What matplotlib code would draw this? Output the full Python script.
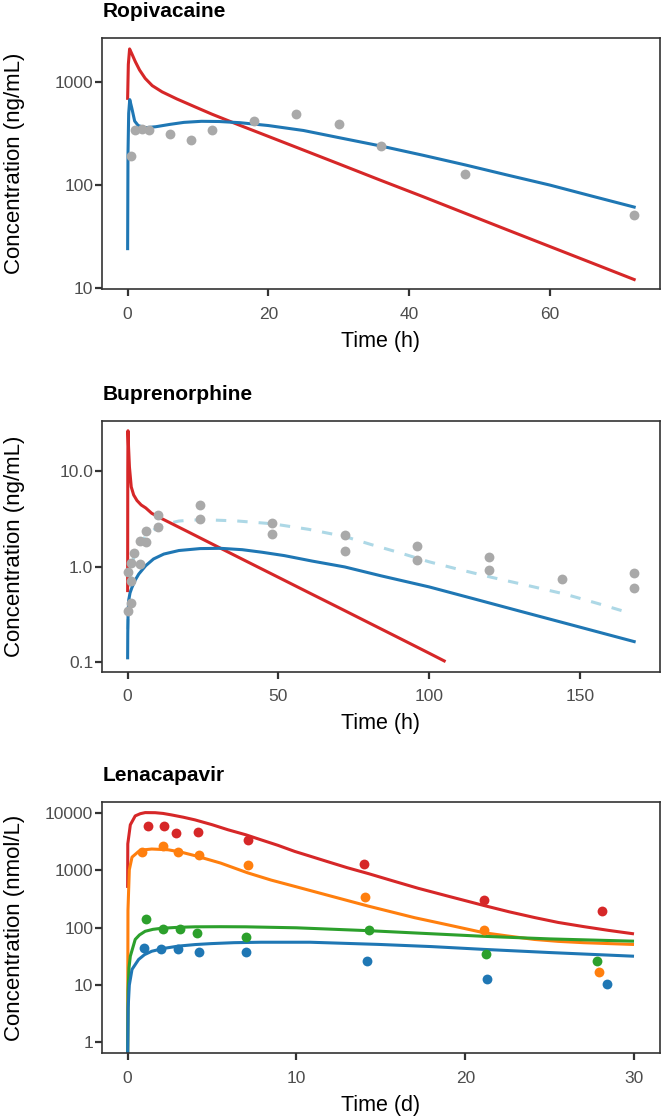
import matplotlib
matplotlib.use("Agg")
import matplotlib.pyplot as plt
from matplotlib.ticker import FixedLocator, FixedFormatter, NullLocator

plt.rcParams['font.family'] = ['Liberation Sans', 'DejaVu Sans']

# ---------------- Ropivacaine ----------------
ropi_obs_t = [0.5, 1, 2, 3, 6, 9, 12, 18, 24, 30, 36, 48, 72]
ropi_obs_c = [190, 341, 355, 341, 314, 277, 347, 421, 490, 391, 240, 129, 51]

ropi_red_t = [0, 0.1, 0.28, 0.6, 1.1, 1.7, 2.5, 3.5, 4.9, 7, 9.6, 12, 15.7, 20, 24, 30, 36,
              42, 48, 54, 60, 66, 72]
ropi_red_c = [700, 1500, 2120, 1900, 1590, 1320, 1094, 930, 809, 690, 577, 490, 388, 298, 233,
              161, 111, 77, 53, 36.5, 25.2, 17.4, 12.0]

ropi_blue_t = [0, 0.05, 0.15, 0.3, 0.6, 1.0, 1.5, 2.5, 4, 6, 8, 10.5, 13, 16, 20, 25, 30, 36,
               42, 48, 54, 60, 66, 72]
ropi_blue_c = [24, 200, 500, 680, 560, 420, 380, 362, 370, 390, 408, 418, 416, 405, 380, 340,
               290, 240, 195, 157, 125, 100, 78, 61]

# ---------------- Buprenorphine ----------------
bup_obs_t = [0.25, 1, 0.25, 1, 1, 2, 4, 4, 6, 6, 10, 10, 24, 24, 48, 48, 72, 72, 96, 96,
             120, 120, 144, 168, 168]
bup_obs_c = [0.34, 0.415, 0.87, 0.71, 1.08, 1.38, 1.06, 1.87, 1.80, 2.34, 2.62, 3.48, 3.16,
             4.43, 2.20, 2.87, 1.44, 2.15, 1.18, 1.63, 0.91, 1.27, 0.746, 0.59, 0.85]

bup_red_t = [0, 0.05, 0.12, 0.3, 0.6, 1.2, 2, 3.1, 4.5, 6, 8, 11.4, 20, 30, 40, 50, 60, 70,
             80, 90, 100, 105]
bup_red_c = [0.56, 10, 26.3, 18, 11, 6.8, 5.6, 4.9, 4.4, 4.1, 3.6, 3.16, 2.31, 1.60, 1.11,
             0.771, 0.535, 0.372, 0.258, 0.179, 0.124, 0.103]

bup_blue_t = [0, 0.05, 0.15, 0.33, 0.8, 1.45, 2.5, 3.7, 6, 8.6, 12, 17, 24, 30.8, 38, 44.6,
              52, 61.2, 72, 84, 100, 115, 130, 145, 158, 168]
bup_blue_c = [0.111, 0.2, 0.32, 0.44, 0.53, 0.605, 0.72, 0.835, 1.02, 1.20, 1.35, 1.47, 1.54,
              1.55, 1.50, 1.41, 1.30, 1.14, 0.99, 0.80, 0.612, 0.458, 0.342, 0.256, 0.199,
              0.164]

bup_dash_t = [0, 0.2, 0.6, 1.2, 2.0, 3.2, 4.8, 6.5, 9.2, 13, 17, 21, 26, 36, 48, 60, 72, 80.7,
              90, 100, 110, 120.8, 133, 145, 156, 166]
bup_dash_c = [0.22, 0.33, 0.475, 0.80, 1.25, 1.60, 1.87, 2.15, 2.48, 2.80, 2.99, 3.06, 3.08,
              3.00, 2.80, 2.45, 2.06, 1.70, 1.40, 1.12, 0.93, 0.77, 0.63, 0.515, 0.41, 0.33]

# ---------------- Lenacapavir ----------------
len_red_obs_t = [1.2, 2.16, 2.86, 4.14, 7.14, 14.0, 21.08, 28.1]
len_red_obs_c = [6010, 6010, 4600, 4790, 3430, 1313, 302, 200]
len_org_obs_t = [0.86, 2.1, 2.96, 4.24, 7.14, 14.06, 21.08, 27.9]
len_org_obs_c = [2120, 2700, 2070, 1835, 1262, 346, 90, 16.9]
len_grn_obs_t = [1.1, 2.12, 3.1, 4.08, 7.02, 14.3, 21.2, 27.8]
len_grn_obs_c = [141, 97, 97, 82, 69, 91, 35.3, 26.7]
len_blu_obs_t = [0.98, 1.98, 3.0, 4.24, 7.02, 14.2, 21.3, 28.4]
len_blu_obs_c = [44.2, 42, 42, 38.3, 37.2, 25.9, 13, 10.6]

len_red_t = [0, 0.01, 0.16, 0.45, 0.75, 1.04, 1.63, 2.1, 2.6, 3.3, 3.99, 5.0, 5.95, 7.0, 7.9,
             8.9, 9.9, 10.8, 11.8, 13.0, 14.28, 15.7, 17.2, 19.0, 21.1, 22.6, 24.1, 25.5, 27.0,
             28.5, 29.9]
len_red_c = [528, 2920, 6270, 8970, 9800, 10240, 10200, 9900, 9330, 8500, 7640, 6300, 5130,
             4200, 3430, 2750, 2150, 1780, 1440, 1120, 879, 660, 490, 355, 245, 190, 151, 124,
             105, 90, 79]
len_org_t = [0, 0.02, 0.1, 0.26, 0.65, 1.0, 1.43, 2.4, 3.2, 4.0, 5.5, 7.1, 8.5, 9.9, 12, 14.28,
             17, 19, 21.1, 22.5, 24.1, 25.5, 27, 28.5, 29.9]
len_org_c = [0.5, 200, 1030, 1710, 2150, 2300, 2370, 2300, 2080, 1810, 1350, 912, 680, 528,
             360, 238, 150, 112, 82, 72, 62.6, 58, 55, 53, 51.3]
len_grn_t = [0, 0.03, 0.08, 0.16, 0.45, 0.7, 1.04, 1.5, 2.0, 3.0, 3.99, 5.5, 7.0, 10, 14.3,
             17.5, 21.1, 25, 29.9]
len_grn_c = [0.5, 8, 20, 32, 62.7, 75, 87, 94, 98, 102, 104, 104.5, 104, 100, 89, 80, 71, 64,
             58.5]
len_blu_t = [0, 0.03, 0.1, 0.26, 0.65, 1.0, 1.43, 2.2, 3.0, 4.0, 4.96, 6.3, 7.9, 10.8, 14.86,
             18, 21.1, 25, 29.9]
len_blu_c = [0.5, 4, 10, 18.8, 28, 34, 39, 44, 47.9, 51, 53, 55, 56, 56, 51.3, 47, 42, 37, 32]

# ---------------- styling ----------------
RED = '#D62728'
BLUE = '#1F77B4'
ORANGE = '#FF7F0E'
GREEN = '#2CA02C'
GREY = '#A9A9A9'
LIGHTBLUE = '#ADD8E6'
LW = 2.2

W, H = 664, 1117
fig = plt.figure(figsize=(W / 100, H / 100), dpi=100)

AX_LEFT, AX_RIGHT, AX_H = 102.3, 659.5, 251.0


def make_ax(top):
    return fig.add_axes([AX_LEFT / W, 1 - (top + AX_H) / H, (AX_RIGHT - AX_LEFT) / W, AX_H / H])


def style(ax, title, xlabel, ylabel, yticks, yticklabels, xticks, xlim, ylim):
    ax.set_yscale('log')
    ax.set_xlim(*xlim)
    ax.set_ylim(*ylim)
    ax.yaxis.set_major_locator(FixedLocator(yticks))
    ax.yaxis.set_major_formatter(FixedFormatter(yticklabels))
    ax.yaxis.set_minor_locator(NullLocator())
    ax.set_xticks(xticks)
    ax.set_xticklabels([str(v) for v in xticks])
    for s in ax.spines.values():
        s.set_color('#333333')
        s.set_linewidth(1.2)
    ax.tick_params(axis='both', which='major', direction='out', length=5, width=1.6,
                   color='#333333', labelcolor='#4D4D4D', labelsize=12.5)
    ax.tick_params(axis='x', pad=7.5)
    ax.tick_params(axis='y', pad=1.5)
    ax.set_xlabel(xlabel, fontsize=15.5, color='black')
    ax.xaxis.set_label_coords(0.5, -41.5 / AX_H)
    ax.set_ylabel(ylabel, fontsize=16, color='black')
    ax.yaxis.set_label_coords((25.0 - AX_LEFT) / (AX_RIGHT - AX_LEFT), 0.5)
    ax.set_title(title, fontsize=15, fontweight='bold', loc='left', x=0.0, pad=15)


# Panel 1
ax1 = make_ax(38.3)
ax1.plot(ropi_red_t, ropi_red_c, color=RED, lw=LW, zorder=2)
ax1.plot(ropi_blue_t, ropi_blue_c, color=BLUE, lw=LW, zorder=2)
ax1.scatter(ropi_obs_t, ropi_obs_c, s=50, color=GREY, zorder=3, linewidths=0)
style(ax1, 'Ropivacaine', 'Time (h)', 'Concentration (ng/mL)',
      [10, 100, 1000], ['10', '100', '1000'], [0, 20, 40, 60],
      (-3.6, 75.6), (10 ** 0.984, 10 ** 3.43))

# Panel 2
ax2 = make_ax(420.7)
ax2.plot(bup_dash_t, bup_dash_c, color=LIGHTBLUE, lw=LW, ls=(0, (3.4, 3.6)), zorder=2)
ax2.plot(bup_red_t, bup_red_c, color=RED, lw=LW, zorder=2)
ax2.plot(bup_blue_t, bup_blue_c, color=BLUE, lw=LW, zorder=2)
ax2.scatter(bup_obs_t, bup_obs_c, s=50, color=GREY, zorder=3, linewidths=0)
style(ax2, 'Buprenorphine', 'Time (h)', 'Concentration (ng/mL)',
      [0.1, 1, 10], ['0.1', '1.0', '10.0'], [0, 50, 100, 150],
      (-8.4, 176.4), (10 ** -1.10, 10 ** 1.525))

# Panel 3
ax3 = make_ax(802.3)
ax3.plot(len_red_t, len_red_c, color=RED, lw=LW, zorder=2)
ax3.plot(len_org_t, len_org_c, color=ORANGE, lw=LW, zorder=2)
ax3.plot(len_grn_t, len_grn_c, color=GREEN, lw=LW, zorder=2)
ax3.plot(len_blu_t, len_blu_c, color=BLUE, lw=LW, zorder=2)
for tt, cc, col in [(len_red_obs_t, len_red_obs_c, RED), (len_org_obs_t, len_org_obs_c, ORANGE),
                    (len_grn_obs_t, len_grn_obs_c, GREEN), (len_blu_obs_t, len_blu_obs_c, BLUE)]:
    ax3.scatter(tt, cc, s=50, color=col, zorder=3, linewidths=0)
style(ax3, 'Lenacapavir', 'Time (d)', 'Concentration (nmol/L)',
      [1, 10, 100, 1000, 10000], ['1', '10', '100', '1000', '10000'], [0, 10, 20, 30],
      (-1.5, 31.5), (10 ** -0.19, 10 ** 4.19))

fig.savefig('out.png', dpi=100)
